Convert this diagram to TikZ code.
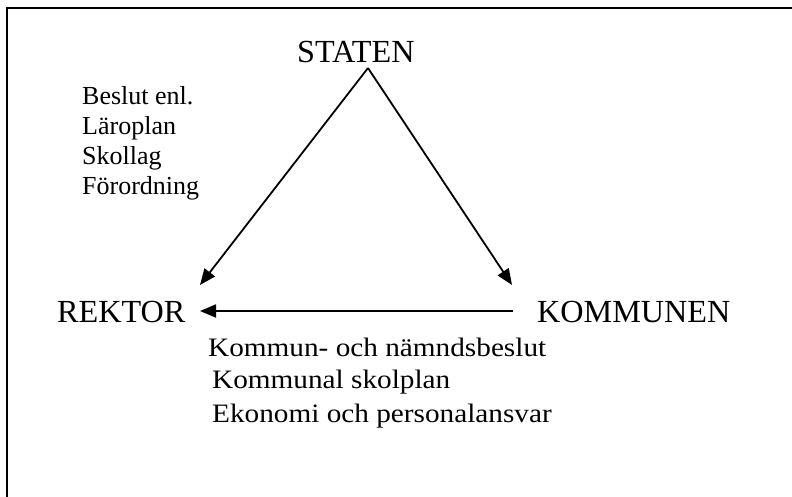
\documentclass[tikz,border=0pt]{standalone}
\usepackage{fontspec}
\setmainfont{Liberation Serif}
\newfontfamily\widefont[FakeStretch=1.1]{Liberation Serif}
\usetikzlibrary{arrows.meta}
\begin{document}
\begin{tikzpicture}[x=1pt,y=1pt,
  big/.style={inner sep=0pt,anchor=base west,font=\fontsize{32.2}{36}\selectfont},
  lst/.style={inner sep=0pt,anchor=base west,font=\fontsize{26}{30}\selectfont},
  blst/.style={inner sep=0pt,anchor=base west,font=\widefont\fontsize{26.6}{33}\selectfont},
  arr/.style={line width=1.8pt,-{Triangle[length=16pt,width=13pt]}},
  frame/.style={line width=2.2pt}]
\useasboundingbox (0,0) rectangle (792,-497);
\draw[frame] (7,-500) -- (7,-8.3) -- (795,-8.3);
% main nodes
\node[big] (staten) at (297,-63) {STATEN};
\node[big] (rektor) at (57,-322) {REKTOR};
\node[big] (kommunen) at (537,-322) {KOMMUNEN};
% connector end points
\coordinate (apex) at (368,-68);
\coordinate (rtip) at (200,-285);
\coordinate (ktip) at (512,-285);
\coordinate (kstart) at (513,-311);
\coordinate (rend) at (200,-311);
\draw[arr] (apex) -- (rtip);
\draw[arr] (apex) -- (ktip);
\draw[arr] (kstart) -- (rend);
% left list
\node[lst] (l1) at (82,-105) {Beslut enl.};
\node[lst] (l2) at (82,-135) {Läroplan};
\node[lst] (l3) at (82,-165) {Skollag};
\node[lst] (l4) at (82,-195) {Förordning};
% bottom list
\node[blst] (b1) at (208,-356) {Kommun- och nämndsbeslut};
\node[blst] (b2) at (212,-388) {Kommunal skolplan};
\node[blst] (b3) at (212,-422) {Ekonomi och personalansvar};
\end{tikzpicture}
\end{document}
